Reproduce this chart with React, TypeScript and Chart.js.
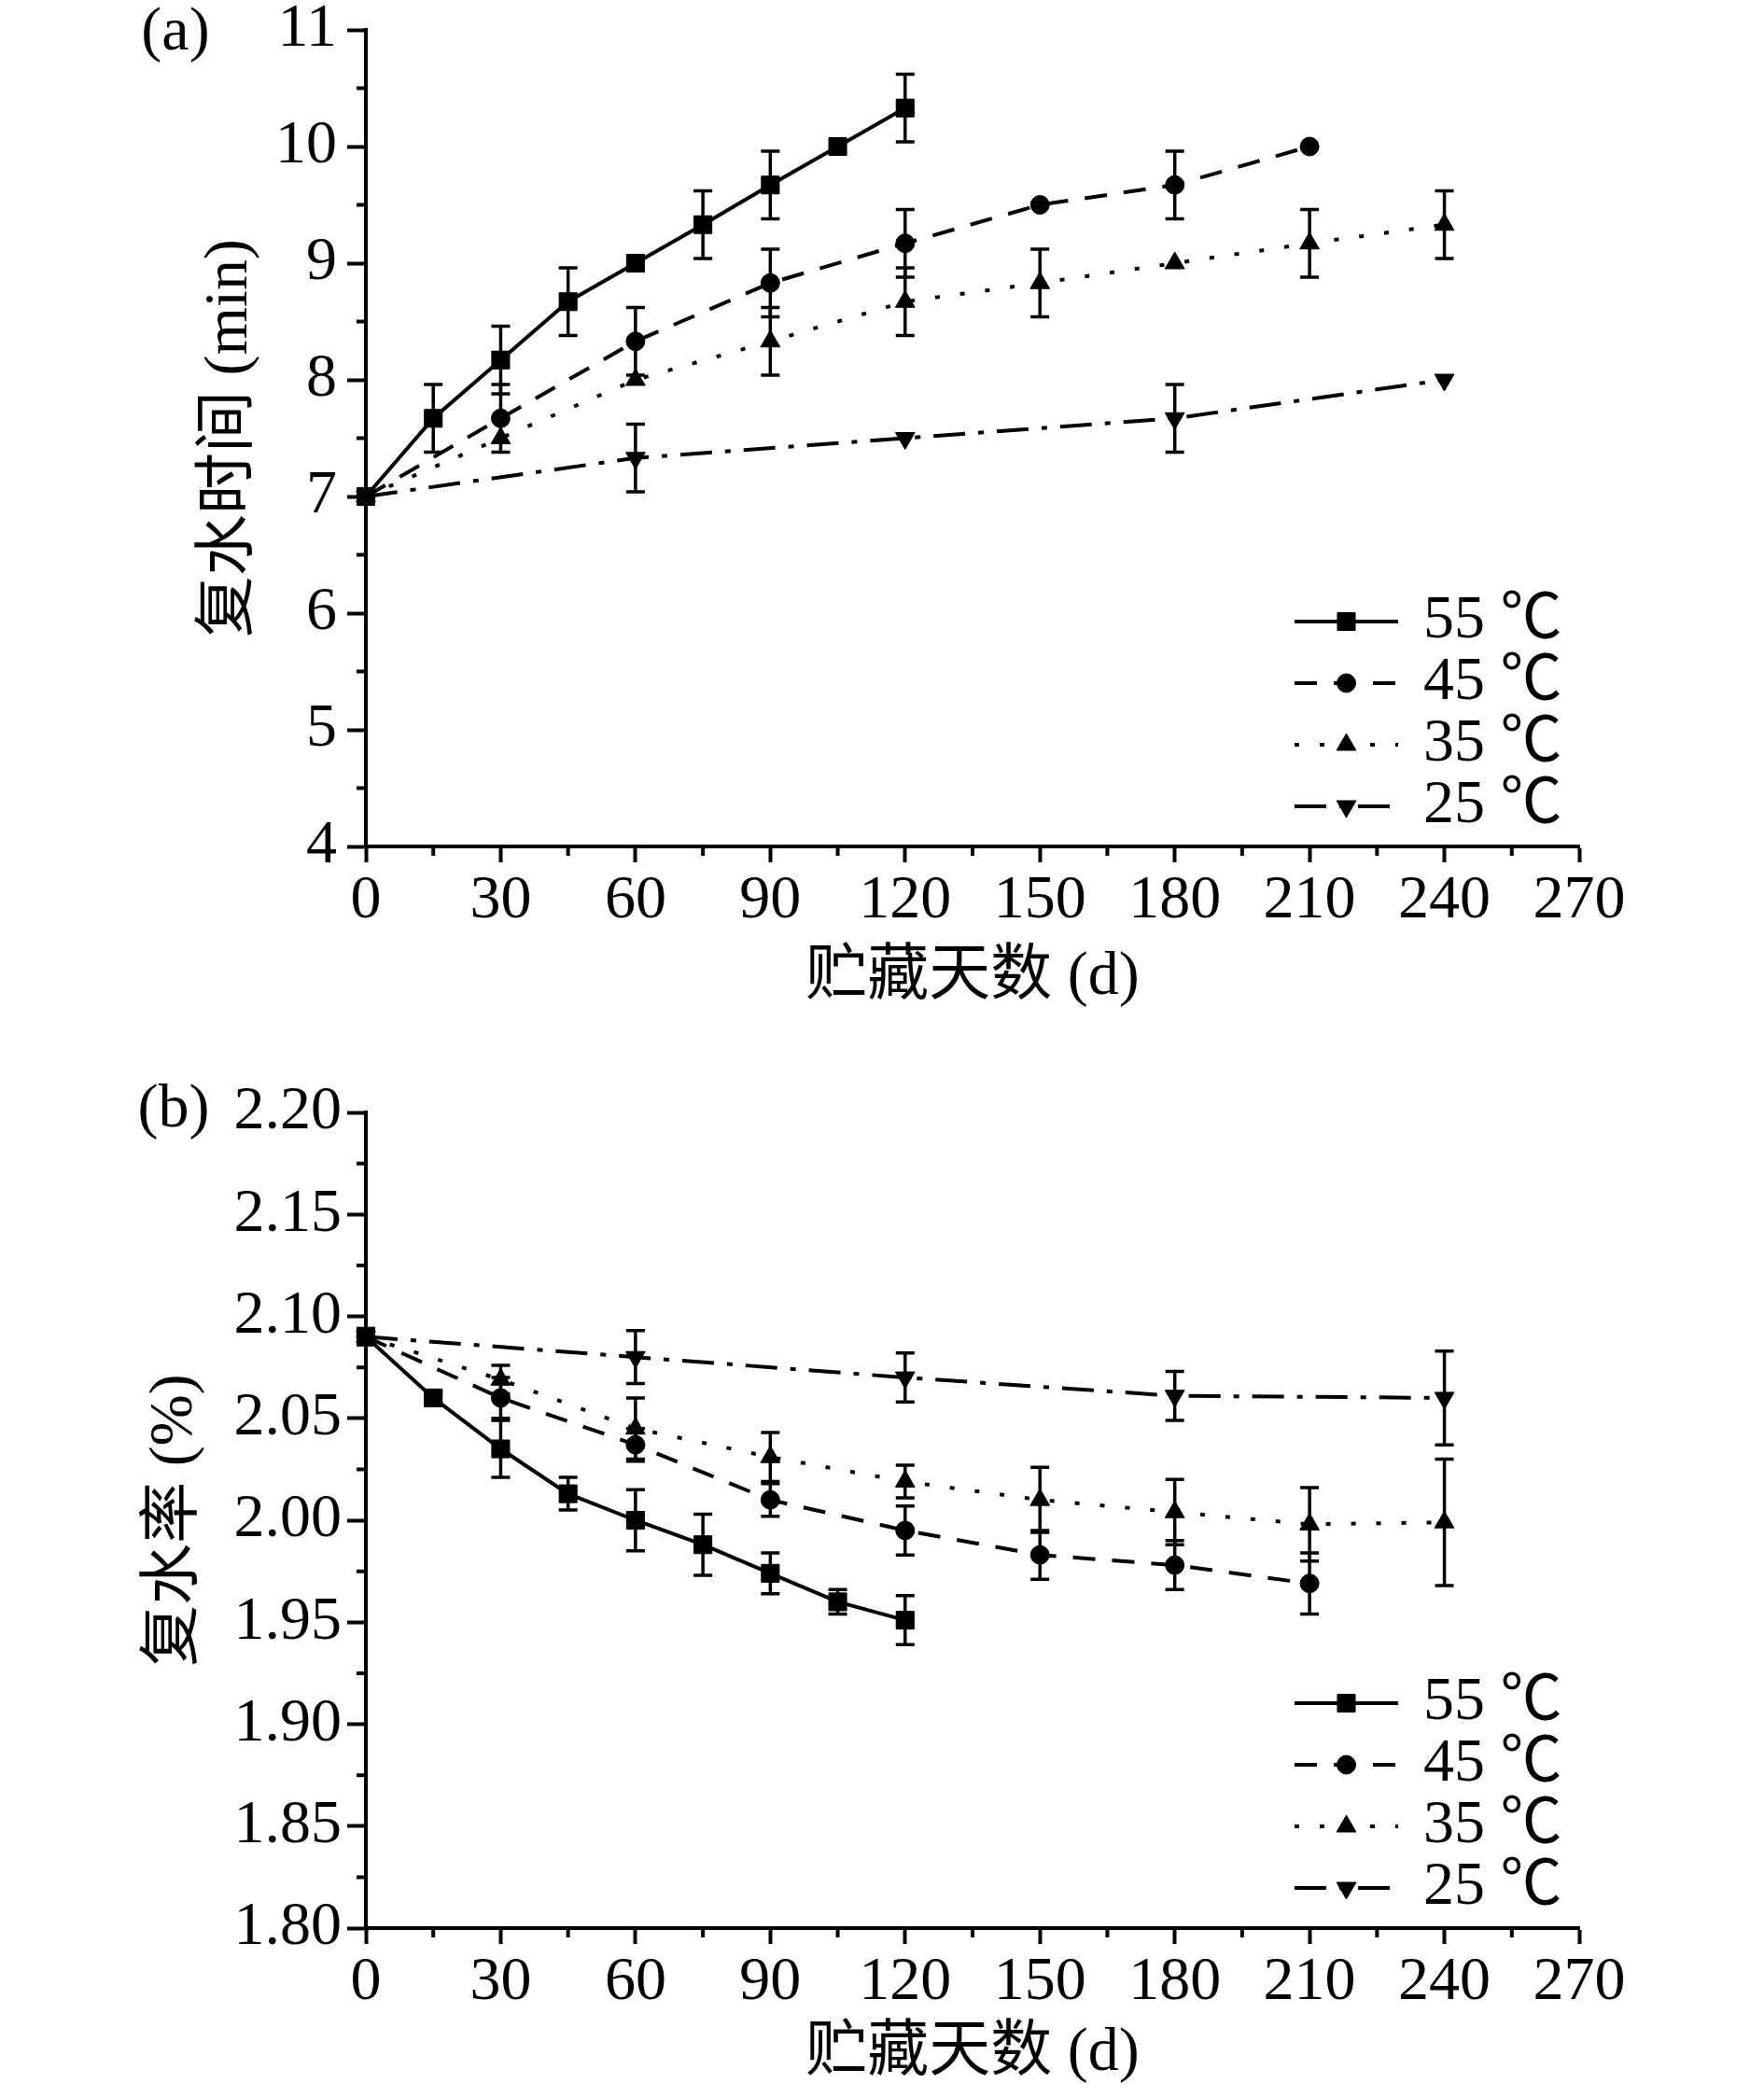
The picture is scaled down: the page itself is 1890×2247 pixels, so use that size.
import React, { useEffect, useRef } from 'react';
import { Chart, registerables } from 'chart.js';
import { drawPoint } from 'chart.js/helpers';

Chart.register(...registerables);

// ---------- data ----------
const SERIES_LABELS = ['55 ℃', '45 ℃', '35 ℃', '25 ℃'];

const DAYS_55 = [0, 15, 30, 45, 60, 75, 90, 105, 120];
const DAYS_45 = [0, 30, 60, 90, 120, 150, 180, 210];
const DAYS_35 = [0, 30, 60, 90, 120, 150, 180, 210, 240];
const DAYS_25 = [0, 60, 120, 180, 240];

// (a) rehydration time (min)
const A_55 = [7.0, 7.67, 8.17, 8.67, 9.0, 9.33, 9.67, 10.0, 10.33];
const A_55_ERR = [0, 0.29, 0.29, 0.29, 0, 0.29, 0.29, 0, 0.29];
const A_45 = [7.0, 7.67, 8.33, 8.83, 9.17, 9.5, 9.67, 10.0];
const A_45_ERR = [0, 0.29, 0.29, 0.29, 0.29, 0, 0.29, 0];
const A_35 = [7.0, 7.5, 8.0, 8.33, 8.67, 8.83, 9.0, 9.17, 9.33];
const A_35_ERR = [0, 0, 0, 0.29, 0.29, 0.29, 0, 0.29, 0.29];
const A_25 = [7.0, 7.33, 7.5, 7.67, 8.0];
const A_25_ERR = [0, 0.29, 0, 0.29, 0];

// (b) rehydration ratio (%)
const B_55 = [2.09, 2.06, 2.035, 2.013, 2.0, 1.988, 1.974, 1.96, 1.951];
const B_55_ERR = [0.004, 0.003, 0.014, 0.008, 0.015, 0.015, 0.01, 0.006, 0.012];
const B_45 = [2.09, 2.06, 2.037, 2.01, 1.995, 1.983, 1.978, 1.969];
const B_45_ERR = [0, 0.01, 0.008, 0.008, 0.012, 0.012, 0.012, 0.015];
const B_35 = [2.09, 2.069, 2.045, 2.031, 2.019, 2.01, 2.004, 1.998, 1.999];
const B_35_ERR = [0, 0.007, 0.015, 0.012, 0.008, 0.016, 0.016, 0.018, 0.031];
const B_25 = [2.09, 2.08, 2.07, 2.061, 2.06];
const B_25_ERR = [0, 0.013, 0.012, 0.012, 0.023];

// ticks
const X_TICKS = [0, 30, 60, 90, 120, 150, 180, 210, 240, 270];
const X_MINOR = [15, 45, 75, 105, 135, 165, 195, 225, 255];
const Y_TICKS_A = [4, 5, 6, 7, 8, 9, 10, 11];
const Y_MINOR_A = [4.5, 5.5, 6.5, 7.5, 8.5, 9.5, 10.5];
const Y_TICKS_B = [1.8, 1.85, 1.9, 1.95, 2.0, 2.05, 2.1, 2.15, 2.2];
const Y_MINOR_B = [1.825, 1.875, 1.925, 1.975, 2.025, 2.075, 2.125, 2.175];

// ---------- styles ----------
const FAMILY = '"Liberation Serif", "Noto Sans CJK SC", serif';
const FS = 66;
const DASHES = [[], [24, 18], [5, 22], [34, 14, 6, 14]];
const STYLES = ['rect', 'circle', 'triangle', 'triangle'];
const ROTS = [0, 0, 0, 180];
const RADII = [13.5, 10, 12, 12];

const errorBarPlugin = {
  id: 'errorBars',
  beforeDatasetsDraw(chart: any) {
    const ctx = chart.ctx;
    const xs = chart.scales.x;
    const ys = chart.scales.y;
    ctx.save();
    ctx.strokeStyle = '#000';
    ctx.lineWidth = 3.5;
    ctx.setLineDash([]);
    chart.data.datasets.forEach((ds: any) => {
      ds.data.forEach((pt: any, j: number) => {
        const e = ds.errors[j];
        if (!e) return;
        const x = xs.getPixelForValue(pt.x);
        const y1 = ys.getPixelForValue(pt.y + e);
        const y2 = ys.getPixelForValue(pt.y - e);
        const hw = 10;
        ctx.beginPath();
        ctx.moveTo(x, y1);
        ctx.lineTo(x, y2);
        ctx.moveTo(x - hw, y1);
        ctx.lineTo(x + hw, y1);
        ctx.moveTo(x - hw, y2);
        ctx.lineTo(x + hw, y2);
        ctx.stroke();
      });
    });
    ctx.restore();
  },
};

const minorTickPlugin = {
  id: 'minorTicks',
  afterDraw(chart: any, _a: any, opts: any) {
    const ctx = chart.ctx;
    const xs = chart.scales.x;
    const ys = chart.scales.y;
    const area = chart.chartArea;
    ctx.save();
    ctx.strokeStyle = '#000';
    ctx.lineWidth = 4;
    ctx.beginPath();
    (opts.x || []).forEach((v: number) => {
      const px = xs.getPixelForValue(v);
      ctx.moveTo(px, area.bottom);
      ctx.lineTo(px, area.bottom + 10);
    });
    (opts.y || []).forEach((v: number) => {
      const py = ys.getPixelForValue(v);
      ctx.moveTo(area.left, py);
      ctx.lineTo(area.left - 10, py);
    });
    ctx.stroke();
    ctx.restore();
  },
};

const legendPlugin = {
  id: 'customLegend',
  afterDraw(chart: any, _a: any, opts: any) {
    const ctx = chart.ctx;
    const area = chart.chartArea;
    chart.data.datasets.forEach((ds: any, i: number) => {
      const y = area.top + opts.offset + i * opts.spacing;
      ctx.save();
      ctx.strokeStyle = '#000';
      ctx.fillStyle = '#000';
      ctx.lineWidth = ds.borderWidth;
      ctx.setLineDash(ds.borderDash || []);
      ctx.beginPath();
      ctx.moveTo(opts.x1, y);
      ctx.lineTo(opts.x2, y);
      ctx.stroke();
      ctx.setLineDash([]);
      ctx.lineWidth = 1;
      drawPoint(ctx, { pointStyle: ds.pointStyle, rotation: ds.pointRotation, radius: ds.pointRadius, borderWidth: 1 } as any, (opts.x1 + opts.x2) / 2, y);
      ctx.font = `${FS}px ${FAMILY}`;
      ctx.textAlign = 'left';
      ctx.textBaseline = 'middle';
      ctx.fillText(ds.label, opts.textX, y);
      ctx.restore();
    });
  },
};

const panelLabelPlugin = {
  id: 'panelLabel',
  afterDraw(chart: any, _a: any, opts: any) {
    const ctx = chart.ctx;
    ctx.save();
    ctx.font = `${FS}px ${FAMILY}`;
    ctx.fillStyle = '#000';
    ctx.textAlign = 'center';
    ctx.textBaseline = 'middle';
    ctx.fillText(opts.text, opts.x, opts.y);
    ctx.restore();
  },
};

type PanelCfg = {
  height: number;
  top: number;
  xAxisH: number;
  xTitlePad: number;
  yTitle: string;
  yTitlePad: number;
  yTickPad: number;
  yMin: number;
  yMax: number;
  yTicks: number[];
  yMinor: number[];
  decimals: number;
  series: { days: number[]; vals: number[]; errs: number[] }[];
  label: string;
  labelX: number;
  labelY: number;
  legendOffset: number;
};

const PANEL_A: PanelCfg = {
  height: 1124,
  top: 32,
  xAxisH: 217,
  xTitlePad: 37,
  yTitle: '复水时间 (min)',
  yTitlePad: 207,
  yTickPad: 11,
  yMin: 4,
  yMax: 11,
  yTicks: Y_TICKS_A,
  yMinor: Y_MINOR_A,
  decimals: 0,
  series: [
    { days: DAYS_55, vals: A_55, errs: A_55_ERR },
    { days: DAYS_45, vals: A_45, errs: A_45_ERR },
    { days: DAYS_35, vals: A_35, errs: A_35_ERR },
    { days: DAYS_25, vals: A_25, errs: A_25_ERR },
  ],
  label: '(a)',
  labelX: 188,
  labelY: 36,
  legendOffset: 634,
};

const PANEL_B: PanelCfg = {
  height: 1123,
  top: 68,
  xAxisH: 181,
  xTitlePad: 7,
  yTitle: '复水率 (%)',
  yTitlePad: 148,
  yTickPad: 6,
  yMin: 1.8,
  yMax: 2.2,
  yTicks: Y_TICKS_B,
  yMinor: Y_MINOR_B,
  decimals: 2,
  series: [
    { days: DAYS_55, vals: B_55, errs: B_55_ERR },
    { days: DAYS_45, vals: B_45, errs: B_45_ERR },
    { days: DAYS_35, vals: B_35, errs: B_35_ERR },
    { days: DAYS_25, vals: B_25, errs: B_25_ERR },
  ],
  label: '(b)',
  labelX: 186,
  labelY: 66,
  legendOffset: 633,
};

function Panel({ cfg }: { cfg: PanelCfg }) {
  const ref = useRef<HTMLCanvasElement | null>(null);
  useEffect(() => {
    if (!ref.current) return;
    const datasets = cfg.series.map((s, i) => ({
      label: SERIES_LABELS[i],
      data: s.days.map((d, j) => ({ x: d, y: s.vals[j] })),
      errors: s.errs,
      borderColor: '#000',
      backgroundColor: '#000',
      borderWidth: 4,
      borderDash: DASHES[i],
      pointStyle: STYLES[i],
      pointRotation: ROTS[i],
      pointRadius: RADII[i],
      pointBorderWidth: 1,
      pointBackgroundColor: '#000',
      pointBorderColor: '#000',
      tension: 0,
      clip: 20,
    }));
    const chart = new Chart(ref.current, {
      type: 'line',
      data: { datasets } as any,
      plugins: [errorBarPlugin, minorTickPlugin, legendPlugin, panelLabelPlugin] as any,
      options: {
        animation: false,
        responsive: false,
        devicePixelRatio: 1,
        layout: { padding: { top: cfg.top, right: 198, bottom: 0, left: 0 } },
        plugins: {
          legend: { display: false },
          tooltip: { enabled: false },
          customLegend: { offset: cfg.legendOffset, spacing: 66, x1: 1387, x2: 1498, textX: 1525 },
          minorTicks: { x: X_MINOR, y: cfg.yMinor },
          panelLabel: { text: cfg.label, x: cfg.labelX, y: cfg.labelY },
        } as any,
        scales: {
          x: {
            type: 'linear',
            min: 0,
            max: 270,
            afterFit: (s: any) => { s.height = cfg.xAxisH; },
            afterBuildTicks: (s: any) => { s.ticks = X_TICKS.map((v) => ({ value: v })); },
            ticks: {
              color: '#000',
              padding: 9,
              maxRotation: 0,
              autoSkip: false,
              font: { family: FAMILY, size: FS, lineHeight: 1.0 },
              callback: (v: any) => String(v),
            },
            grid: { display: true, drawOnChartArea: false, drawTicks: true, tickLength: 17, tickWidth: 4, tickColor: '#000', color: '#000' },
            border: { display: true, color: '#000', width: 4 },
            title: {
              display: true,
              text: '贮藏天数 (d)',
              color: '#000',
              font: { family: FAMILY, size: FS, lineHeight: 1.2 },
              padding: { top: 0, bottom: cfg.xTitlePad },
            },
          },
          y: {
            type: 'linear',
            min: cfg.yMin,
            max: cfg.yMax,
            afterFit: (s: any) => { s.width = 392; },
            afterBuildTicks: (s: any) => { s.ticks = cfg.yTicks.map((v) => ({ value: v })); },
            ticks: {
              color: '#000',
              padding: cfg.yTickPad,
              autoSkip: false,
              font: { family: FAMILY, size: FS, lineHeight: 0.3 },
              callback: (v: any) => Number(v).toFixed(cfg.decimals),
            },
            grid: { display: true, drawOnChartArea: false, drawTicks: true, tickLength: 20, tickWidth: 4, tickColor: '#000', color: '#000' },
            border: { display: true, color: '#000', width: 4 },
            title: {
              display: true,
              text: cfg.yTitle,
              color: '#000',
              font: { family: FAMILY, size: FS, lineHeight: 1.2 },
              padding: { top: cfg.yTitlePad, bottom: 0 },
            },
          },
        },
      } as any,
    });
    return () => chart.destroy();
  }, [cfg]);
  return <canvas ref={ref} width={1890} height={cfg.height} style={{ display: 'block', width: 1890, height: cfg.height }} />;
}

export default function App() {
  return (
    <div style={{ position: 'absolute', left: 0, top: 0, width: 1890, background: '#fff' }}>
      <Panel cfg={PANEL_A} />
      <Panel cfg={PANEL_B} />
    </div>
  );
}
